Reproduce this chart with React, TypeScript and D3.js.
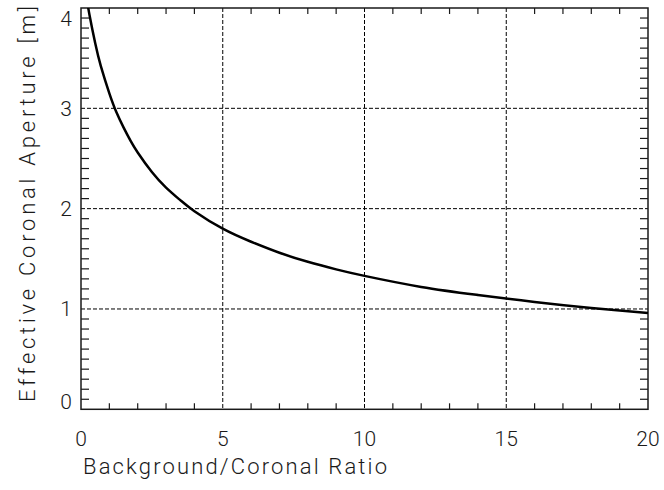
import React, { useEffect, useRef } from "react";
import * as d3 from "d3";

// values
const ratio = [0.1, 0.2, 0.3, 0.5, 0.7, 1, 1.25, 1.5, 1.75, 2, 2.5, 3, 3.5, 4, 5, 6, 7, 8, 9, 10, 12, 14, 16, 18, 20];
const aperture = [4.29, 4.1, 3.93, 3.65, 3.42, 3.15, 2.96, 2.81, 2.675, 2.56, 2.365, 2.21, 2.085, 1.975, 1.8, 1.67, 1.56, 1.47, 1.395, 1.33, 1.22, 1.14, 1.07, 1.01, 0.96];

const xTicks = [0, 5, 10, 15, 20];
const yTicks = [0, 1, 2, 3, 4];
const xTitle = "Background/Coronal Ratio";
const yTitle = "Effective Coronal Aperture [m]";

const App = () => {
  const ref = useRef<SVGSVGElement>(null);

  useEffect(() => {
    const width = 664;
    const height = 490;
    const left = 81, right = 648, top = 8, bottom = 409.3;
    const font = "Roboto, 'DejaVu Sans', sans-serif";
    const ink = "#1a1a1a";

    const svg = d3.select(ref.current)
      .attr("width", width)
      .attr("height", height);
    svg.selectAll("*").remove();

    const x = d3.scaleLinear().domain([0, 20]).range([left, right]);
    const y = d3.scaleLinear().domain([0, 4]).range([bottom, top]);

    svg.append("rect")
      .attr("width", width)
      .attr("height", height)
      .attr("fill", "white");

    // grille pointillée aux graduations majeures
    const grid = svg.append("g")
      .attr("stroke", "#000")
      .attr("stroke-width", 1)
      .attr("stroke-dasharray", "4,2");
    xTicks.slice(1, -1).forEach(v => {
      grid.append("line")
        .attr("x1", x(v)).attr("x2", x(v))
        .attr("y1", top).attr("y2", bottom);
    });
    yTicks.slice(1, -1).forEach(v => {
      grid.append("line")
        .attr("x1", left).attr("x2", right)
        .attr("y1", y(v)).attr("y2", y(v));
    });

    // petites graduations sur les quatre côtés
    const minor = svg.append("g").attr("stroke", ink).attr("stroke-width", 1.2);
    d3.range(1, 20).filter(v => v % 5 !== 0).forEach(v => {
      minor.append("line").attr("x1", x(v)).attr("x2", x(v)).attr("y1", bottom).attr("y2", bottom - 6);
      minor.append("line").attr("x1", x(v)).attr("x2", x(v)).attr("y1", top).attr("y2", top + 6);
    });
    d3.range(1, 40).filter(v => v % 10 !== 0).forEach(i => {
      const v = i / 10;
      minor.append("line").attr("x1", left).attr("x2", left + 8).attr("y1", y(v)).attr("y2", y(v));
      minor.append("line").attr("x1", right).attr("x2", right - 8).attr("y1", y(v)).attr("y2", y(v));
    });

    // cadre
    svg.append("rect")
      .attr("x", left)
      .attr("y", top)
      .attr("width", right - left)
      .attr("height", bottom - top)
      .attr("fill", "none")
      .attr("stroke", ink)
      .attr("stroke-width", 1.5);

    // courbe
    svg.append("clipPath").attr("id", "plot-clip")
      .append("rect")
      .attr("x", left).attr("y", top)
      .attr("width", right - left).attr("height", bottom - top);

    const line = d3.line<number>()
      .x((d, i) => x(ratio[i]))
      .y(d => y(d))
      .curve(d3.curveNatural);

    svg.append("path")
      .datum(aperture)
      .attr("clip-path", "url(#plot-clip)")
      .attr("d", line)
      .attr("fill", "none")
      .attr("stroke", "#000")
      .attr("stroke-width", 2.5);

    // labels des axes
    svg.append("g")
      .selectAll("text")
      .data(xTicks)
      .join("text")
      .attr("x", d => x(d))
      .attr("y", 446)
      .attr("text-anchor", "middle")
      .attr("font-family", font)
      .attr("font-weight", 300)
      .attr("font-size", 21)
      .attr("fill", ink)
      .text(d => d);

    svg.append("g")
      .selectAll("text")
      .data(yTicks)
      .join("text")
      .attr("x", 72)
      .attr("y", d => Math.min(401, Math.max(18, y(d))) + 7.5)
      .attr("text-anchor", "end")
      .attr("font-family", font)
      .attr("font-weight", 300)
      .attr("font-size", 21)
      .attr("fill", ink)
      .text(d => d);

    svg.append("text")
      .attr("x", 235)
      .attr("y", 474)
      .attr("text-anchor", "middle")
      .attr("font-family", font)
      .attr("font-weight", 300)
      .attr("font-size", 22)
      .attr("fill", ink)
      .attr("textLength", 304)
      .attr("lengthAdjust", "spacing")
      .text(xTitle);

    svg.append("text")
      .attr("transform", "translate(34.5, 204) rotate(-90)")
      .attr("text-anchor", "middle")
      .attr("font-family", font)
      .attr("font-weight", 300)
      .attr("font-size", 22)
      .attr("fill", ink)
      .attr("textLength", 396)
      .attr("lengthAdjust", "spacing")
      .text(yTitle);
  }, []);

  return <svg ref={ref} style={{ position: "absolute", left: 0, top: 0 }}></svg>;
};

export default App;
